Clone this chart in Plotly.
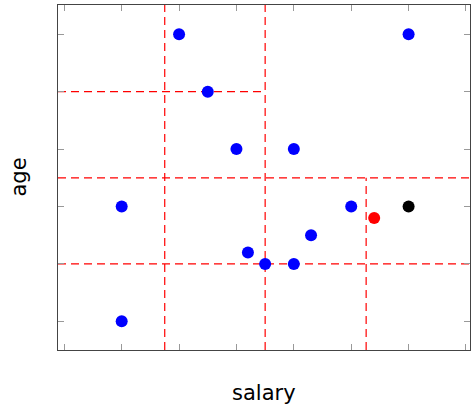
import plotly.graph_objects as go

# data points (salary, age)
salary = [2, 6, 2.5, 3, 4, 1, 5, 4.3, 3.2, 3.5, 4, 1]
age = [5, 5, 4, 3, 3, 2, 2, 1.5, 1.2, 1, 1, 0]
query_salary = [5.4]
query_age = [1.8]
nearest_salary = [6]
nearest_age = [2]

x_ticks = [0, 1, 2, 3, 4, 5, 6, 7]
y_ticks = [0, 1, 2, 3, 4, 5]
x_range = [-0.11, 7.07]
y_range = [-0.5, 5.51]

# partition lines: (split value, start, end) in data units
v_splits = [(1.75, -0.5, 5.51), (3.5, -0.5, 5.51), (5.26, -0.5, 2.5)]
h_splits = [(4, -0.11, 3.5), (2.5, -0.11, 7.07), (1, -0.11, 7.07)]

fig = go.Figure()
fig.add_trace(go.Scatter(x=salary, y=age, mode="markers",
                         marker=dict(color="#0000ff", size=12), showlegend=False))
fig.add_trace(go.Scatter(x=query_salary, y=query_age, mode="markers",
                         marker=dict(color="#ff0000", size=12), showlegend=False))
fig.add_trace(go.Scatter(x=nearest_salary, y=nearest_age, mode="markers",
                         marker=dict(color="#000000", size=12), showlegend=False))

line_style = dict(color="#ff0000", width=1.2, dash="8px,5px")
for xv, y0, y1 in v_splits:
    fig.add_shape(type="line", x0=xv, x1=xv, y0=y0, y1=y1, xref="x", yref="y",
                  line=line_style, layer="below")
for yv, x0, x1 in h_splits:
    fig.add_shape(type="line", x0=x0, x1=x1, y0=yv, y1=yv, xref="x", yref="y",
                  line=line_style, layer="below")

axis_common = dict(showgrid=False, zeroline=False, showline=True, linecolor="#444",
                   linewidth=1.3, mirror="ticks", ticks="inside", ticklen=6,
                   tickcolor="#999", tickwidth=1.3, showticklabels=False)
fig.update_xaxes(range=x_range, tickvals=x_ticks, **axis_common)
fig.update_yaxes(range=y_range, tickvals=y_ticks, **axis_common)

fig.add_annotation(text="salary", xref="paper", yref="paper", x=0.5, y=0,
                   yshift=-43, showarrow=False, font=dict(size=21, color="#000",
                   family="DejaVu Sans"), yanchor="middle")
fig.add_annotation(text="age", xref="paper", yref="paper", x=0, y=0.5,
                   xshift=-40, showarrow=False, textangle=-90,
                   font=dict(size=21, color="#000", family="DejaVu Sans"),
                   xanchor="center")

fig.update_layout(width=471, height=407, margin=dict(l=58, r=1, t=5, b=57),
                  plot_bgcolor="white", paper_bgcolor="white", hovermode=False)
fig.write_html("out.html", config={"displayModeBar": False},
               post_script="document.body.style.margin='0';document.body.style.overflow='hidden';")
